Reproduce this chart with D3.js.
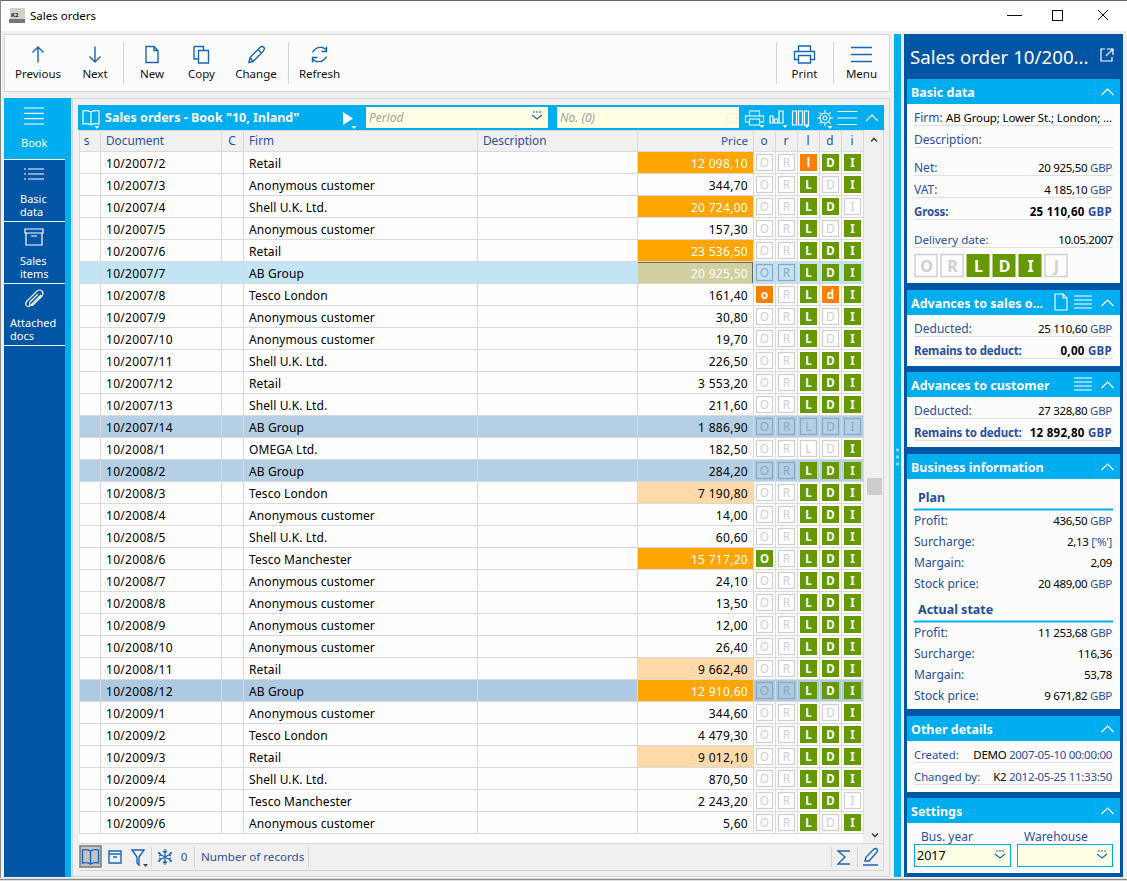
<!DOCTYPE html>
<head>
<meta charset="utf-8">
<script src="https://cdn.jsdelivr.net/npm/d3@7/dist/d3.min.js"></script>
<style>
	html, body { margin: 0; padding: 0; background: #f0f0f0; overflow: hidden; }
	svg { display: block; }
	text { font-family: "Noto Sans", sans-serif; font-size: 11.5px; }
</style>
</head>
<body>
<div id="app"></div>
<script>
var documents = ["10/2007/2","10/2007/3","10/2007/4","10/2007/5","10/2007/6","10/2007/7","10/2007/8","10/2007/9","10/2007/10","10/2007/11","10/2007/12","10/2007/13","10/2007/14","10/2008/1","10/2008/2","10/2008/3","10/2008/4","10/2008/5","10/2008/6","10/2008/7","10/2008/8","10/2008/9","10/2008/10","10/2008/11","10/2008/12","10/2009/1","10/2009/2","10/2009/3","10/2009/4","10/2009/5","10/2009/6"];
var firms = ["Retail","Anonymous customer","Shell U.K. Ltd.","Anonymous customer","Retail","AB Group","Tesco London","Anonymous customer","Anonymous customer","Shell U.K. Ltd.","Retail","Shell U.K. Ltd.","AB Group","OMEGA Ltd.","AB Group","Tesco London","Anonymous customer","Shell U.K. Ltd.","Tesco Manchester","Anonymous customer","Anonymous customer","Anonymous customer","Anonymous customer","Retail","AB Group","Anonymous customer","Tesco London","Retail","Shell U.K. Ltd.","Tesco Manchester","Anonymous customer"];
var prices = [12098.10,344.70,20724.00,157.30,23536.50,20925.50,161.40,30.80,19.70,226.50,3553.20,211.60,1886.90,182.50,284.20,7190.80,14.00,60.60,15717.20,24.10,13.50,12.00,26.40,9662.40,12910.60,344.60,4479.30,9012.10,870.50,2243.20,5.60];
// state of each flag per row: . = off, G = done, A = partly
var flagO = "......A...........G............";
var flagR = "...............................";
var flagL = "AGGGGGGGGGGG..GGGGGGGGGGGGGGGGG";
var flagD = "G.G.GGA..GGG..GGGGGGGGGGG.GGGG.";
var flagI = "GG.GGGGGGGGG.GGGGGGGGGGGGGGGG.G";
var highlighted = {"10/2007/14": "#b5cfe5", "10/2008/2": "#b5cfe5", "10/2008/12": "#aec9e2", "10/2007/7": "#c2e4f5"};
var selectedDocument = "10/2007/7";

var toolbarLeft = ["Previous","Next","New","Copy","Change","Refresh"];
var toolbarRight = ["Print","Menu"];
var navItems = [["Book"],["Basic","data"],["Sales","items"],["Attached","docs"]];
var columns = ["s","Document","C","Firm","Description","Price","o","r","l","d","i"];
var docFlags = ["O","R","L","D","I","J"];
var docFlagStates = [".",".","G","G","G","."];

var basicData = [["Net:","20 925,50","GBP"],["VAT:","4 185,10","GBP"],["Gross:","25 110,60","GBP"]];
var salesAdvances = [["Deducted:","25 110,60","GBP"],["Remains to deduct:","0,00","GBP"]];
var customerAdvances = [["Deducted:","27 328,80","GBP"],["Remains to deduct:","12 892,80","GBP"]];
var planInfo = [["Profit:","436,50","GBP"],["Surcharge:","2,13","['%']"],["Margain:","2,09",""],["Stock price:","20 489,00","GBP"]];
var actualInfo = [["Profit:","11 253,68","GBP"],["Surcharge:","116,36",""],["Margain:","53,78",""],["Stock price:","9 671,82","GBP"]];

var CYAN = "#00adef", DARK = "#0055a5", ICON = "#1a66b3", LABEL = "#2b4ea3", GREEN = "#669900", ORANGE = "#ff8000", GRID = "#d9d9d9";

var svg = d3.select("#app").append("svg").attr("width", 1127).attr("height", 881);

function rect(p, x, y, w, h, fill, stroke, sw) {
	var r = p.append("rect").attr("x", x).attr("y", y).attr("width", w).attr("height", h).attr("fill", fill || "none");
	if (stroke) r.attr("stroke", stroke).attr("stroke-width", sw || 1);
	return r;
}
function line(p, x1, y1, x2, y2, c, sw) {
	return p.append("line").attr("x1", x1).attr("y1", y1).attr("x2", x2).attr("y2", y2).attr("stroke", c).attr("stroke-width", sw || 1);
}
// y is the vertical centre of the text
function txt(p, x, y, s, c, o) {
	o = o || {};
	return p.append("text").attr("x", x).attr("y", y + (o.dy || 4)).attr("fill", c || "#000")
		.attr("text-anchor", o.a || "start").attr("font-weight", o.b ? "bold" : null)
		.attr("font-style", o.i ? "italic" : null).attr("letter-spacing", o.ls || null)
		.style("font-size", o.fs ? o.fs + "px" : null).text(s);
}
function icon(p, x, y, d, c, sw) {
	return p.append("path").attr("transform", "translate(" + x + "," + y + ")").attr("d", d)
		.attr("fill", "none").attr("stroke", c || ICON).attr("stroke-width", sw || 1.4);
}
function drop(p, x, y, c) {
	p.append("path").attr("d", "M" + (x - 2.5) + "," + y + "h5l-2.5,3z").attr("fill", c);
}

var ICONS = {
	Previous: "M0,-7.5V8M-5.5,-2L0,-7.5L5.5,-2",
	Next: "M0,-8V7.5M-5.5,2L0,7.5L5.5,2",
	New: "M-6,-8H2L6,-4V8H-6ZM2,-8V-4H6",
	Copy: "M-7.5,-8H2V-4M-7.5,-8V4.5H-3M-3,-4H7V8.5H-3Z",
	Change: "M-7,8L-6,3L4,-7Q6,-9 8,-7Q9,-5 7,-3L-3,7ZM-6,3L-3,7M2,-5L6,-1",
	Refresh: "M-7,-2Q-4,-8 3,-7Q6,-6 7,-4M7,-8V-3H2M7,2Q4,8 -3,7Q-6,6 -7,4M-7,8V3H-2",
	Print: "M-6,-3V-8.5H6V-3M-6,5H-10V-3H10V5H6M-6,1H6V8.5H-6Z",
	Menu: "M-10.5,-7H10.5M-10.5,0H10.5M-10.5,7H10.5",
	book: "M0,-6Q-4,-8 -8,-7V6Q-4,5 0,7Q4,5 8,6V-7Q4,-8 0,-6ZM0,-6V7",
	box: "M-6,-6H6V6H-6ZM-6,-3H6M-2,0H2",
	filter: "M-6,-7H6L1,0V8L-1,6V0Z",
	snow: "M0,-8V8M-7,-4L7,4M-7,4L7,-4M-2,-6L0,-4L2,-6M-2,6L0,4L2,6M-6,-1L-4,-2L-6,-5M6,-1L4,-2L6,-5M-6,1L-4,2L-6,5M6,1L4,2L6,5",
	sigma: "M6,-6H-6L1,0L-6,7H6",
	pencil: "M-6,4L-5,0L3,-8Q5,-9 6,-8Q7,-6 6,-5L-2,4ZM-8,8H7",
	gear: "M0,-5A5,5 0 1 0 0.01,-5M0,-2A2,2 0 1 0 0.01,-2M0,-8V-5M0,5V8M-8,0H-5M5,0H8M-5.6,-5.6L-3.5,-3.5M3.5,3.5L5.6,5.6M-5.6,5.6L-3.5,3.5M3.5,-3.5L5.6,-5.6",
	bars: "M-8,-2H-5V5H-8ZM-3.5,1H-0.5V5H-3.5ZM1,-7H5V5H1Z",
	cols: "M-8,-7H-4V7H-8ZM-2,-7H2V7H-2ZM4,-7H8V7H4Z",
	printSmall: "M-5,-2V-7H5V-2M-5,4H-9V-2H9V4H5M-5,1H5V7H-5Z",
	lines: "M-10,-6.5H10M-10,0H10M-10,6.5H10",
	up: "M-6,3L0,-3L6,3",
	search: "M2,-3A5,5 0 1 0 2.01,-3M-2,6L-7,10"
};
var NAV_ICONS = [
	"M-10,-8H10M-10,-2.7H10M-10,2.7H10M-10,8H10",
	"M-6,-6H10M-6,-1H10M-6,4H10M-10,-6H-8M-10,-1H-8M-10,4H-8",
	"M-9,-8H9V-4H-9ZM-8,-4V8H8V-4M-3,-1H3",
	"M7,-4L-3,6Q-6,9 -8,6Q-9,4 -7,2L3,-8Q6,-10 8,-8Q10,-6 8,-3L-1,6Q-3,7 -4,6Q-5,4 -4,3L4,-5"
];

// window frame and title
rect(svg, 0, 0, 1127, 31, "#fff");
line(svg, 0, 0.5, 1127, 0.5, "#666");
line(svg, 0.5, 0, 0.5, 879, "#888");
rect(svg, 10, 8, 15, 14, "#d0d0d0");
rect(svg, 9, 19, 16, 4, "#777");
txt(svg, 11, 15, "K2", "#222", {b: 1, fs: 6, dy: 2});
txt(svg, 30, 16, "Sales orders", "#000");
line(svg, 1007, 15.5, 1022, 15.5, "#111");
rect(svg, 1052.5, 10.5, 10, 10, "none", "#111");
icon(svg, 1103, 15, "M-5,-5L5,5M-5,5L5,-5", "#111", 1);

// main toolbar
rect(svg, 4.5, 34.5, 885, 57, "#fbfbfb", "#d4d4d4");
var toolX = {Previous: 38, Next: 95, New: 152, Copy: 201.5, Change: 256, Refresh: 319.5, Print: 804.5, Menu: 861.5};
toolbarLeft.concat(toolbarRight).forEach(function(n) {
	icon(svg, toolX[n], 54.5, ICONS[n]);
	txt(svg, toolX[n], 74, n, "#111", {a: "middle"});
});
[123, 288, 776, 833].forEach(function(x) { line(svg, x + .5, 42, x + .5, 84, "#d4d4d4"); });

// left navigation
rect(svg, 4, 98, 67, 779, CYAN);
rect(svg, 4, 160, 61, 717, DARK);
navItems.forEach(function(lines, i) {
	var top = 98 + i * 62;
	line(svg, 4, i == 0 ? 159.5 : top + 61.5, 65, i == 0 ? 159.5 : top + 61.5, i == 0 ? "#fff" : "#e8f4fc");
	icon(svg, 34, i == 0 ? 116 : top + 15, NAV_ICONS[i], "#fff", 1.2);
	lines.forEach(function(l, j) {
		var ty = i == 0 ? 143 : top + 39 + j * 13;
		txt(svg, i == 3 ? 10 : (i == 0 ? 21 : 20), ty, l, "#fff", {fs: 11});
	});
});

// table panel
rect(svg, 72.5, 98.5, 817, 778, "#f0f0f0", "#d4d4d4");
rect(svg, 78, 105, 806, 25, CYAN);
icon(svg, 91, 118, ICONS.book, "#fff", 1.2);
drop(svg, 97, 126, "#fff");
txt(svg, 105, 118, 'Sales orders - Book "10, Inland"', "#fff", {b: 1, fs: 12.5});
svg.append("path").attr("d", "M343,112L353,118.5L343,125Z").attr("fill", "#fff");
drop(svg, 354, 126, "#fff");
rect(svg, 366, 107, 182, 21, "#ffffe3");
txt(svg, 369, 118, "Period", "#a0a0a0", {i: 1, fs: 12});
icon(svg, 537, 116, "M-5,-1L0,3L5,-1M-4,-4H-2M-1,-4H1M2,-4H4", ICON, 1.2);
rect(svg, 557, 107, 182, 21, "#ffffe3");
txt(svg, 560, 118, "No. (0)", "#a0a0a0", {i: 1, fs: 12});
icon(svg, 730, 116, ICONS.search, "#f0f0d8", 1.2);
icon(svg, 754.5, 118, ICONS.printSmall, "#fff", 1.2);
drop(svg, 762, 125, "#fff");
icon(svg, 778, 118, ICONS.bars, "#fff", 1.2);
drop(svg, 785, 125, "#fff");
icon(svg, 800.5, 118, ICONS.cols, "#fff", 1.2);
drop(svg, 807, 125, "#fff");
icon(svg, 825, 118, ICONS.gear, "#fff", 1.2);
drop(svg, 830, 126, "#fff");
icon(svg, 847.5, 118, ICONS.lines, "#fff", 1.2);
icon(svg, 872, 118, ICONS.up, "#fff", 1.2);
line(svg, 835.5, 107, 835.5, 128, "#30a0d8");
line(svg, 859.5, 107, 859.5, 128, "#30a0d8");

// columns and rows
var colEdges = [79, 100, 221, 243, 477, 637, 753, 775, 797, 819, 841, 863];
var x = d3.scaleOrdinal(columns, colEdges.slice(0, -1));
var colWidth = function(c) { return colEdges[columns.indexOf(c) + 1] - colEdges[columns.indexOf(c)]; };
var y = d3.scaleBand(documents, [152, 834]);
var priceFill = d3.scaleThreshold([5000, 10000], ["none", "#ffd9a8", "#ffa500"]);
var priceFormat = d3.formatLocale({decimal: ",", thousands: " ", grouping: [3], currency: ["", ""]}).format(",.2f");
var flagFill = {".": null, "G": GREEN, "A": ORANGE};
var flagColumns = [["o", flagO, "O", "o"], ["r", flagR, "R", "r"], ["l", flagL, "L", "l"], ["d", flagD, "D", "d"], ["i", flagI, "I", "i"]];

rect(svg, 79, 130, 784, 22, "#f0f0f0");
rect(svg, 79, 152, 784, 691, "#fdfdfd");
rect(svg, 863, 130, 20, 713, "#f0f0f0");

var head = svg.append("g");
columns.forEach(function(c) {
	var cx = x(c), w = colWidth(c);
	if (c == "Price") txt(head, cx + w - 5, 141, c, LABEL, {a: "end", fs: 11.6});
	else if (c.length == 1) txt(head, cx + w / 2 + (c == "s" ? -3 : 0), 141, c, LABEL, {a: "middle", fs: 11.8});
	else txt(head, cx + 6, 141, c, LABEL, {fs: 11.8});
});

var rows = svg.append("g").selectAll("g").data(documents).enter().append("g")
	.attr("transform", function(d) { return "translate(0," + y(d) + ")"; });
rows.each(function(doc, i) {
	var g = d3.select(this);
	var h = y.bandwidth();
	if (highlighted[doc]) rect(g, 79, 0, 784, h, highlighted[doc]);
	var pf = priceFill(prices[i]);
	if (doc == selectedDocument) pf = "#d2d0a0";
	if (pf != "none") rect(g, x("Price"), 0, colWidth("Price"), h, pf);
	if (doc == selectedDocument) rect(g, x("Price") + .5, .5, colWidth("Price") - 1, h - 1, "none", "#000").attr("stroke-dasharray", "1,1");
	txt(g, x("Document") + 6, 11.5, doc, "#000", {fs: 12, ls: .3});
	txt(g, x("Firm") + 6, 11.5, firms[i], "#000", {fs: 12, ls: .1});
	txt(g, x("Price") + colWidth("Price") - 5, 11.5, priceFormat(prices[i]), pf == "#ffa500" || doc == selectedDocument ? "#fff" : "#000", {a: "end", fs: 12, ls: .3});
	flagColumns.forEach(function(fc) {
		var cx = x(fc[0]) + 11.5;
		var state = fc[1][i], fill = flagFill[state];
		if (fill) {
			rect(g, cx - 8.5, 2, 17, 17, fill);
			txt(g, cx, 11, state == "A" ? fc[3] : fc[2], "#fff", {a: "middle", b: 1});
		} else {
			var c = highlighted[doc] ? "#8ba8c0" : "#cfcfcf";
			rect(g, cx - 8, 2.5, 16, 16, highlighted[doc] ? "none" : "#fff", c, 1.3);
			txt(g, cx, 11, fc[2], c, {a: "middle", fs: 12});
		}
	});
});

// grid
var grid = svg.append("g");
grid.selectAll(".h").data(documents).enter().append("line")
	.attr("x1", 79).attr("x2", 863)
	.attr("y1", function(d) { return y(d) + y.bandwidth() - .5; })
	.attr("y2", function(d) { return y(d) + y.bandwidth() - .5; })
	.attr("stroke", GRID);
line(grid, 79, 151.5, 863, 151.5, GRID);
line(grid, 79, 130.5, 863, 130.5, GRID);
colEdges.forEach(function(e) { line(grid, e + .5, 130, e + .5, 834, GRID); });

// scrollbar
icon(svg, 874, 139.5, "M-3,2L0,-1L3,2", "#444", 1.6);
icon(svg, 875, 834.5, "M-3,-1L0,2L3,-1", "#444", 1.6);
rect(svg, 867, 478, 15, 17, "#cdcdcd");
line(svg, 883.5, 130, 883.5, 870, "#d9d9d9");

// bottom bar
rect(svg, 79, 843, 804, 27, "#f0f0f0");
line(svg, 79, 843.5, 884, 843.5, "#d4d4d4");
line(svg, 79, 870.5, 884, 870.5, "#d4d4d4");
rect(svg, 80, 846, 21, 21, "#c4c4c4", "#808080", 1.6);
icon(svg, 90.5, 857, ICONS.book);
icon(svg, 115, 857, ICONS.box);
icon(svg, 138, 857, ICONS.filter);
drop(svg, 145.5, 864, "#444");
icon(svg, 165, 857, ICONS.snow, ICON, 1.2);
txt(svg, 184, 857, "0", LABEL, {a: "middle"});
txt(svg, 201, 857, "Number of records", LABEL, {fs: 11.6});
[151, 194, 308, 831, 857].forEach(function(e) { line(svg, e + .5, 847, e + .5, 867, "#d4d4d4"); });
icon(svg, 844, 857, ICONS.sigma);
icon(svg, 871, 857, ICONS.pencil);

// splitter
rect(svg, 894, 34, 7, 843, CYAN);
[450, 457, 464].forEach(function(cy) { svg.append("circle").attr("cx", 897.5).attr("cy", cy).attr("r", 1.8).attr("fill", "#8fd6f5"); });

// detail panel
rect(svg, 904, 34, 219, 843, DARK);
txt(svg, 910, 57, "Sales order 10/200...", "#fff", {fs: 18.7, dy: 7});
icon(svg, 1107, 55, "M-2,-6H-6V6H5V2M0,-6H6V0M6,-6L-1,1", "#fff", 1.2);

function panel(top, bodyBottom, title, extras) {
	rect(svg, 907, top + 25, 213, bodyBottom - top - 25, "#fcfcfc");
	rect(svg, 907, top, 213, 25, CYAN);
	txt(svg, 911, top + 13.5, title, "#fff", {b: 1, fs: 12.5});
	line(svg, 1095.5, top + 2, 1095.5, top + 23, "#30a0d8");
	icon(svg, 1107.5, top + 13, ICONS.up, "#fff", 1.2);
	(extras || []).forEach(function(e) { icon(svg, e[0], top + 12, e[1], "#fff", 1.1); });
}
function field(cy, label, value, unit, bold) {
	txt(svg, 914, cy, label, LABEL, bold ? {b: 1, ls: -.15} : {fs: 12});
	var t = txt(svg, 1112, cy, null, "#000", {a: "end", b: bold, ls: bold ? .3 : -.3});
	t.append("tspan").text(value);
	if (unit) t.append("tspan").attr("fill", LABEL).text(" " + unit);
}
function rule(cy) { line(svg, 914, cy + .5, 1113, cy + .5, "#e0e0e0"); }

var listIcon = "M-9,-6H9M-9,-2H9M-9,2H9M-9,6H9";
panel(79, 283, "Basic data");
txt(svg, 914, 118, "Firm:", LABEL, {fs: 12});
txt(svg, 946, 118, "AB Group; Lower St.; London; ...", "#000", {ls: -.13});
rule(125);
txt(svg, 914, 140, "Description:", LABEL, {fs: 12});
rule(147);
var basicY = d3.scalePoint(basicData.map(function(d) { return d[0]; }), [168, 212]);
basicData.forEach(function(d, i) { field(basicY(d[0]), d[0], d[1], d[2], i == 2); rule(basicY(d[0]) + 7); });
txt(svg, 914, 240, "Delivery date:", LABEL, {fs: 11.6});
txt(svg, 1113, 240, "10.05.2007", "#000", {a: "end", ls: -.4});
rule(247);
var flagX = d3.scaleBand(docFlags, [914, 1070]);
docFlags.forEach(function(f, i) {
	var on = docFlagStates[i] == "G";
	if (on) rect(svg, flagX(f) + .5, 254, 23, 23, GREEN);
	else rect(svg, flagX(f) + 1, 254.5, 22, 22, "#fcfcfc", "#cfcfcf", 1.5);
	txt(svg, flagX(f) + 12.5, 265.5, f, on ? "#fff" : "#cfcfcf", {a: "middle", b: 1, fs: 16, dy: 6});
});

panel(290, 366, "Advances to sales o...", [[1061, ICONS.New], [1083, listIcon]]);
salesAdvances.forEach(function(d, i) { field(329 + i * 22, d[0], d[1], d[2], i == 1); rule(336 + i * 22); });

panel(372, 447, "Advances to customer", [[1083, listIcon]]);
customerAdvances.forEach(function(d, i) { field(411 + i * 22, d[0], d[1], d[2], i == 1); rule(418 + i * 22); });

panel(454, 709, "Business information");
txt(svg, 918, 497.5, "Plan", "#1d4f9c", {b: 1, fs: 12.5});
rect(svg, 914, 508.5, 199, 2, CYAN);
planInfo.forEach(function(d, i) { field(521 + i * 21, d[0], d[1], d[2]); });
txt(svg, 918, 609.5, "Actual state", "#1d4f9c", {b: 1, fs: 12.5});
rect(svg, 914, 620.5, 199, 2, CYAN);
actualInfo.forEach(function(d, i) { field(633 + i * 21, d[0], d[1], d[2]); });

panel(716, 792, "Other details");
txt(svg, 914, 755, "Created:", LABEL, {fs: 11.3});
var created = txt(svg, 1112, 755, null, "#000", {a: "end", ls: -.3});
created.append("tspan").text("DEMO ");
created.append("tspan").attr("fill", LABEL).text("2007-05-10 00:00:00");
rule(762);
txt(svg, 914, 777, "Changed by:", LABEL, {fs: 11.3});
var changed = txt(svg, 1112, 777, null, "#000", {a: "end", ls: -.3});
changed.append("tspan").text("K2 ");
changed.append("tspan").attr("fill", LABEL).text("2012-05-25 11:33:50");
rule(784);

panel(798, 873, "Settings");
txt(svg, 921, 837, "Bus. year", LABEL, {fs: 12});
txt(svg, 1024, 837, "Warehouse", LABEL, {fs: 12});
rect(svg, 914.5, 844.5, 96, 22, "#ffffe3", CYAN, 1);
rect(svg, 1017.5, 844.5, 95, 22, "#ffffe3", CYAN, 1);
txt(svg, 917, 856, "2017", "#000", {fs: 12.5});
icon(svg, 1000, 854, "M-5,0L0,4L5,0M-4,-3H-2M-1,-3H1M2,-3H4", ICON, 1.1);
icon(svg, 1102, 854, "M-5,0L0,4L5,0M-4,-3H-2M-1,-3H1M2,-3H4", ICON, 1.1);

// window bottom edge
rect(svg, 0, 878, 1127, 3, "#e0e0e0");
line(svg, 0, 879.5, 1127, 879.5, "#888");
</script>
</body>
